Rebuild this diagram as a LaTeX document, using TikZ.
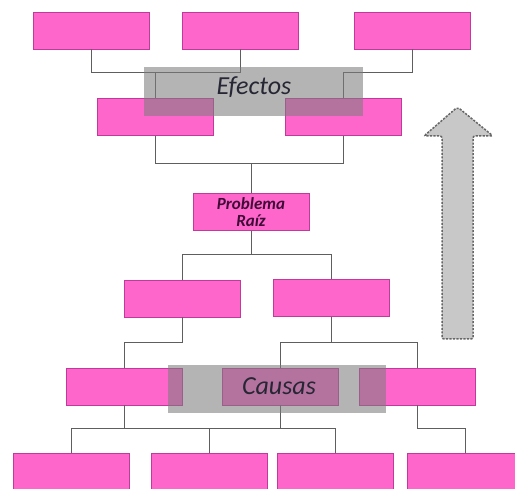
\documentclass[tikz,border=0pt]{standalone}
\usepackage{fontspec}
\newfontfamily\calib{Carlito}
\definecolor{boxpink}{HTML}{FF66CC}
\definecolor{boxedge}{HTML}{C03A9E}
\definecolor{wire}{HTML}{5E5E5E}
\definecolor{veil}{HTML}{7D7D7D}
\definecolor{arrowfill}{HTML}{C8C8C8}
\definecolor{arrowedge}{HTML}{666666}
\definecolor{rootink}{HTML}{3E0C36}
\definecolor{labelink}{HTML}{262634}
\tikzset{
  pinkbox/.style={draw=boxedge, line width=0.8pt, fill=boxpink,
    minimum width=116pt, minimum height=37pt, inner sep=0pt},
  veilbox/.style={fill=veil, fill opacity=0.575, draw=none, inner sep=0pt},
  wireline/.style={draw=wire, line width=1pt},
  bigword/.style={font=\calib\itshape\fontsize{26}{28}\selectfont, text=labelink},
}
\begin{document}
\begin{tikzpicture}[x=1pt, y=-1pt]
\useasboundingbox (0,0) rectangle (515,489);
\clip (0,0) rectangle (515,489);
\fill[white] (0,0) rectangle (515,489);

% level heights of the junction bars
\coordinate (y73)  at (0,73);
\coordinate (y164) at (0,164);
\coordinate (y255) at (0,255);
\coordinate (y343) at (0,343);
\coordinate (y429) at (0,429);

% boxes
\node[pinkbox] (A) at (91,30.5) {};
\node[pinkbox] (B) at (240,30.5) {};
\node[pinkbox] (C) at (412,30.5) {};
\node[pinkbox] (D) at (155,117) {};
\node[pinkbox] (E) at (343,117) {};
\node[pinkbox, align=center, font=\calib\bfseries\itshape\fontsize{17}{17}\selectfont, text=rootink]
  (PR) at (251,212) {Problema\\Raíz};
\node[pinkbox] (F) at (182,298.5) {};
\node[pinkbox] (G) at (331.5,298) {};
\node[pinkbox] (H) at (124.5,386.5) {};
\node[pinkbox] (I) at (280,386.5) {};
\node[pinkbox] (J) at (417,386.5) {};
\node[pinkbox] (K) at (71,471.5) {};
\node[pinkbox] (L) at (209.5,471.5) {};
\node[pinkbox] (M) at (335.5,471.5) {};
\node[pinkbox] (N) at (465,471.5) {};

% connectors: effects side
\draw[wireline] (A.south) -- (A.south |- y73) -- (B.south |- y73) -- (B.south);
\draw[wireline] (D.north) -- (D.north |- y73);
\draw[wireline] (C.south) -- (C.south |- y73) -- (E.north |- y73) -- (E.north);
\draw[wireline] (D.south) -- (D.south |- y164) -- (E.south |- y164) -- (E.south);
\draw[wireline] (PR.north) -- (PR.north |- y164);

% connectors: causes side
\draw[wireline] (PR.south) -- (PR.south |- y255);
\draw[wireline] (F.north) -- (F.north |- y255) -- (G.north |- y255) -- (G.north);
\draw[wireline] (F.south) -- (F.south |- y343) -- (H.north |- y343) -- (H.north);
\draw[wireline] (G.south) -- (G.south |- y343);
\draw[wireline] (I.north) -- (I.north |- y343) -- (J.north |- y343) -- (J.north);
\draw[wireline] (H.south) -- (H.south |- y429);
\draw[wireline] (I.south) -- (I.south |- y429);
\draw[wireline] (K.north) -- (K.north |- y429) -- (M.north |- y429) -- (M.north);
\draw[wireline] (L.north) -- (L.north |- y429);
\draw[wireline] (J.south) -- (J.south |- y429) -- (N.north |- y429) -- (N.north);

% translucent label bands
\node[veilbox, minimum width=219pt, minimum height=49pt] (efband) at (253.5,91.5) {};
\node[veilbox, minimum width=218pt, minimum height=48pt] (caband) at (277,389) {};
\node[bigword] (eflabel) at (254,87) {Efectos};
\node[bigword] (calabel) at (279,386) {Causas};

% upward block arrow
\draw[fill=arrowfill, draw=arrowedge, line width=1.5pt, dash pattern=on 2.2pt off 1.3pt,
      rounded corners=2pt]
  (442,339) -- (442,136) -- (424,136) -- (457.5,107) -- (493,136)
  -- (473,136) -- (473,339) -- cycle;
\end{tikzpicture}
\end{document}
